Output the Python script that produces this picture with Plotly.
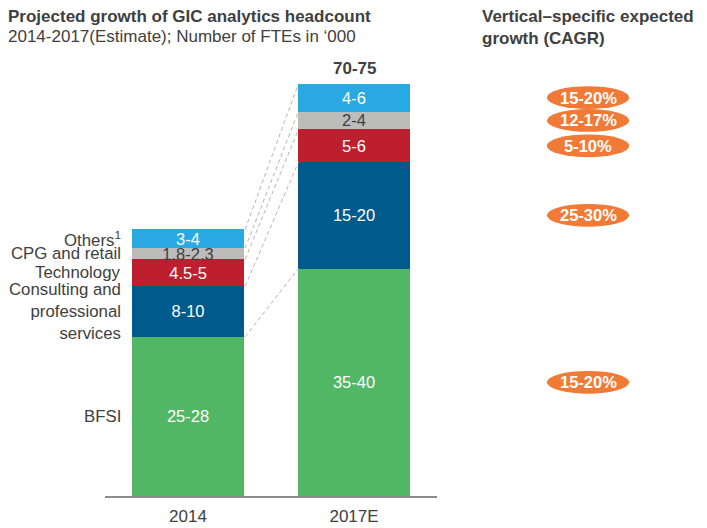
import plotly.graph_objects as go

# === Data ===
years = ["2014", "2017E"]
segments = ["BFSI", "Consulting and<br>professional<br>services", "Technology", "CPG and retail", "Others<sup>1</sup>"]
values_2014 = [28.0, 8.9, 4.75, 1.95, 3.3]
values_2017 = [40.0, 18.7, 5.75, 3.15, 4.9]
labels_2014 = ["25-28", "8-10", "4.5-5", "1.8-2.3", "3-4"]
labels_2017 = ["35-40", "15-20", "5-6", "2-4", "4-6"]
totals = ["45-50", "70-75"]
cagr = ["15-20%", "25-30%", "5-10%", "12-17%", "15-20%"]

colors = ["#52B765", "#005A8B", "#BE1F2E", "#BCBDBA", "#29A9E1"]
text_colors = ["white", "white", "white", "#404040", "white"]
FONT = "Arial, Liberation Sans, sans-serif"
DARK = "#404040"
BAR_W = 0.669

fig = go.Figure()

for i, seg in enumerate(segments):
    fig.add_bar(
        x=years,
        y=[values_2014[i], values_2017[i]],
        text=[labels_2014[i], labels_2017[i]],
        textposition="inside",
        insidetextanchor="middle",
        textangle=0,
        constraintext="none",
        textfont=dict(size=16.5, color=text_colors[i], family=FONT),
        marker=dict(color=colors[i], line=dict(width=0)),
        width=BAR_W,
        name=seg,
        hoverinfo="skip",
    )

# cumulative tops of each segment
tops_2014, tops_2017 = [], []
c1 = c2 = 0
for a, b in zip(values_2014, values_2017):
    c1 += a
    c2 += b
    tops_2014.append(c1)
    tops_2017.append(c2)

# === Dashed connectors ===
for t1, t2 in zip(tops_2014, tops_2017):
    fig.add_shape(type="line", xref="x", yref="y",
                  x0=BAR_W / 2 + 0.01, y0=t1, x1=1 - BAR_W / 2, y1=t2,
                  line=dict(color="#B8B4B0", width=1, dash="4px,3px"))

# === Totals above bars ===
for xi, tot, top in zip(years, totals, [tops_2014[-1], tops_2017[-1]]):
    fig.add_annotation(x=xi, y=top, text="<b>" + tot + "</b>", showarrow=False,
                       xanchor="center", yanchor="bottom", yshift=4,
                       font=dict(size=17, color=DARK, family=FONT))

# === Segment names left of 2014 bar ===
for i, seg in enumerate(segments):
    mid = tops_2014[i] - values_2014[i] / 2
    fig.add_annotation(x=0.054, xref="paper", y=mid, yref="y", text=seg, showarrow=False,
                       xanchor="right", yanchor="middle", align="right",
                       font=dict(size=16.8, color=DARK, family=FONT))

# === CAGR ellipses ===
EX = 1.455
for i, lab in enumerate(cagr):
    mid = tops_2017[i] - values_2017[i] / 2
    fig.add_shape(type="circle", xref="paper", yref="y",
                  x0=EX - 0.124, x1=EX + 0.124, y0=mid - 2.0, y1=mid + 2.0,
                  fillcolor="#F07A36", line=dict(width=0))
    fig.add_annotation(x=EX, xref="paper", y=mid, yref="y", text="<b>" + lab + "</b>",
                       showarrow=False, xanchor="center", yanchor="middle",
                       font=dict(size=16.5, color="white", family=FONT))


# === Titles (positions in page pixels) ===
def px_x(px):
    return (px - 105) / 332


def px_y(py):
    return (496 - py) / 455


fig.add_annotation(x=px_x(6), y=px_y(17), xref="paper", yref="paper",
                   xanchor="left", yanchor="middle",
                   text="<b>Projected growth of GIC analytics headcount</b>", showarrow=False,
                   font=dict(size=17, color=DARK, family=FONT))
fig.add_annotation(x=px_x(6), y=px_y(36), xref="paper", yref="paper",
                   xanchor="left", yanchor="middle",
                   text="2014-2017(Estimate); Number of FTEs in \u2018000", showarrow=False,
                   font=dict(size=17, color=DARK, family=FONT))
fig.add_annotation(x=px_x(480), y=px_y(27), xref="paper", yref="paper",
                   xanchor="left", yanchor="middle", align="left",
                   text="<b>Vertical\u2013specific expected<br>growth (CAGR)</b>", showarrow=False,
                   font=dict(size=17, color=DARK, family=FONT))

# === Layout ===
# page body adds an 8px offset, so the figure is 8px smaller than the window
fig.update_layout(
    barmode="stack",
    width=699, height=520,
    margin=dict(l=97, r=270, t=33, b=32),
    plot_bgcolor="white", paper_bgcolor="white",
    showlegend=False,
    font=dict(family=FONT, color=DARK, size=16),
    xaxis=dict(range=[-0.5, 1.5], showline=True, linecolor="#8C8C8C", linewidth=2,
               ticks="outside", ticklen=4, tickcolor="rgba(0,0,0,0)",
               showgrid=False, zeroline=False, automargin=False,
               tickfont=dict(size=17, color=DARK, family=FONT)),
    yaxis=dict(range=[0, 80], visible=False, showgrid=False, zeroline=False,
               automargin=False),
)

fig.write_html("out.html")
